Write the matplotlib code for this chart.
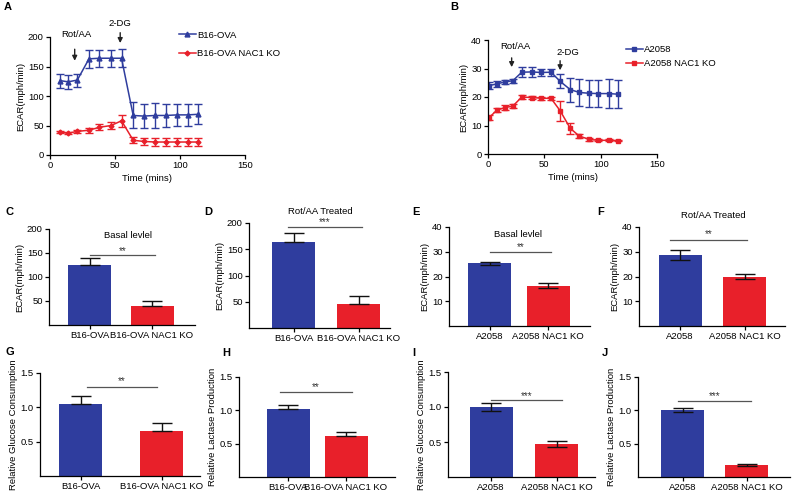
import numpy as np
import matplotlib
matplotlib.use("Agg")
import matplotlib.pyplot as plt
from matplotlib.lines import Line2D

plt.rcParams['font.family'] = ['Liberation Sans', 'DejaVu Sans']
plt.rcParams['font.size'] = 7

BLUE = '#2f3d9e'
RED = '#e8202a'
W, H = 792, 493
FS = 6.8

# ---- time course data (panel A: B16-OVA, panel B: A2058)
a_time = [8, 14, 21, 30, 38, 47, 55, 64, 72, 81, 89, 98, 106, 114]
a_wt = [126, 124, 127, 163, 164, 164, 164, 67, 66, 67, 67, 68, 68, 69]
a_wt_err = [12, 12, 11, 15, 14, 14, 15, 22, 21, 21, 20, 19, 18, 17]
a_ko = [39, 37, 40, 42, 47, 50, 58, 25, 23, 22, 22, 22, 22, 22]
a_ko_err = [2, 2, 2, 4, 5, 6, 10, 5, 6, 6, 6, 6, 6, 6]

b_time = [1, 8, 15, 22, 30, 39, 47, 56, 64, 73, 81, 90, 98, 107, 115]
b_wt = [24.0, 24.6, 25.3, 25.7, 28.7, 28.8, 28.6, 28.7, 25.5, 22.6, 21.6, 21.3, 21.2, 21.2, 21.0]
b_wt_err = [1.3, 1.0, 0.6, 0.7, 1.8, 1.8, 1.3, 1.3, 2.5, 4.2, 4.7, 4.8, 4.8, 5.0, 5.0]
b_ko = [12.8, 15.4, 16.3, 16.8, 20.0, 19.8, 19.6, 19.5, 15.2, 9.0, 6.3, 5.1, 4.8, 4.8, 4.7]
b_ko_err = [0.8, 0.8, 0.8, 0.8, 0.8, 0.5, 0.5, 0.5, 3.5, 2.0, 0.8, 0.4, 0.3, 0.3, 0.3]

# ---- bar panels C-J
b16_labels = ['B16-OVA', 'B16-OVA NAC1 KO']
a2058_labels = ['A2058', 'A2058 NAC1 KO']
c_vals, c_err = [124, 40], [15, 9]
d_vals, d_err = [163, 45], [18, 16]
e_vals, e_err = [25.3, 16.3], [0.7, 0.9]
f_vals, f_err = [28.6, 20.0], [2.0, 1.0]
g_vals, g_err = [1.05, 0.65], [0.12, 0.12]
h_vals, h_err = [1.02, 0.61], [0.06, 0.06]
i_vals, i_err = [1.0, 0.47], [0.06, 0.04]
j_vals, j_err = [1.0, 0.18], [0.03, 0.01]


def px_axes(fig, l, r, t, b):
    return fig.add_axes([l / W, 1 - b / H, (r - l) / W, (b - t) / H])


def style(ax):
    for s in ['top', 'right']:
        ax.spines[s].set_visible(False)
    for s in ['left', 'bottom']:
        ax.spines[s].set_linewidth(0.9)
    ax.tick_params(direction='out', length=3, width=0.9, labelsize=FS, pad=1.5)


fig = plt.figure(figsize=(W / 100, H / 100), dpi=100)

# ---------------- panel A
ax = px_axes(fig, 50, 245, 37, 155)
style(ax)
ax.errorbar(a_time, a_wt, yerr=a_wt_err, color=BLUE, marker='^', ms=3.5,
            lw=1.1, capsize=2.8, elinewidth=1)
ax.errorbar(a_time, a_ko, yerr=a_ko_err, color=RED, marker='D', ms=2.5,
            lw=1.1, capsize=2.8, elinewidth=1)
ax.set_xlim(0, 150)
ax.set_ylim(0, 200)
ax.set_xticks([0, 50, 100, 150])
ax.set_yticks([0, 50, 100, 150, 200])
ax.set_xlabel('Time (mins)', fontsize=FS, labelpad=3)
ax.set_ylabel('ECAR(mph/min)', fontsize=FS, labelpad=2)
ax.annotate('', xy=(19, 155), xytext=(19, 184), annotation_clip=False,
            arrowprops=dict(arrowstyle='-|>', color='#222222', lw=1, mutation_scale=7))
ax.text(20, 205, 'Rot/AA', ha='center', va='center', fontsize=FS)
ax.annotate('', xy=(54, 185), xytext=(54, 212), annotation_clip=False,
            arrowprops=dict(arrowstyle='-|>', color='#222222', lw=1, mutation_scale=7))
ax.text(54, 223, '2-DG', ha='center', va='center', fontsize=FS)
h = [Line2D([], [], color=BLUE, marker='^', ms=3.5, lw=1.1),
     Line2D([], [], color=RED, marker='D', ms=2.5, lw=1.1)]
fig.legend(h, ['B16-OVA', 'B16-OVA NAC1 KO'], loc='upper left',
           bbox_to_anchor=(170 / W, 1 - 22 / H), frameon=False, fontsize=FS,
           handlelength=1.8, handletextpad=0.2, labelspacing=1.0)
fig.text(4 / W, 1 - 7 / H, 'A', fontsize=8, fontweight='bold', va='center')

# ---------------- panel B
ax = px_axes(fig, 488, 657, 40, 154)
style(ax)
ax.errorbar(b_time, b_wt, yerr=b_wt_err, color=BLUE, marker='s', ms=2.5,
            lw=1.1, capsize=2.8, elinewidth=1)
ax.errorbar(b_time, b_ko, yerr=b_ko_err, color=RED, marker='s', ms=2.5,
            lw=1.1, capsize=2.8, elinewidth=1)
ax.set_xlim(0, 150)
ax.set_ylim(0, 40)
ax.set_xticks([0, 50, 100, 150])
ax.set_yticks([0, 10, 20, 30, 40])
ax.set_xlabel('Time (mins)', fontsize=FS, labelpad=3)
ax.set_ylabel('ECAR(mph/min)', fontsize=FS, labelpad=2)
ax.annotate('', xy=(21, 29.5), xytext=(21, 34.7), annotation_clip=False,
            arrowprops=dict(arrowstyle='-|>', color='#222222', lw=1, mutation_scale=7))
ax.text(24, 37.8, 'Rot/AA', ha='center', va='center', fontsize=FS)
ax.annotate('', xy=(64, 28.4), xytext=(64, 33.7), annotation_clip=False,
            arrowprops=dict(arrowstyle='-|>', color='#222222', lw=1, mutation_scale=7))
ax.text(71, 35.5, '2-DG', ha='center', va='center', fontsize=FS)
h = [Line2D([], [], color=BLUE, marker='s', ms=2.5, lw=1.1),
     Line2D([], [], color=RED, marker='s', ms=2.5, lw=1.1)]
fig.legend(h, ['A2058', 'A2058 NAC1 KO'], loc='upper left',
           bbox_to_anchor=(617 / W, 1 - 37 / H), frameon=False, fontsize=FS,
           handlelength=1.8, handletextpad=0.2, labelspacing=0.5)
fig.text(450 / W, 1 - 7 / H, 'B', fontsize=8, fontweight='bold', va='center')


# ---------------- bar panels
def bar_panel(box, centers, vals, err, lower, ymax, yticks, ylabel, labels,
              title, title_xy, sig, sig_span, star_y, letter, letter_xy):
    l, r, t, b = box
    c0, c1 = centers
    unit = c1 - c0
    ax = px_axes(fig, l, r, t, b)
    style(ax)
    x = np.arange(len(vals))
    ax.bar(x, vals, width=43 / unit, color=[BLUE, RED], zorder=2)
    lo = err if lower else [0] * len(err)
    ax.errorbar(x, vals, yerr=[lo, err], fmt='none', ecolor='#111111',
                elinewidth=1, capsize=7, capthick=1, zorder=3)
    ax.set_xlim((l - c0) / unit, (r - c0) / unit)
    ax.set_ylim(0, ymax)
    ax.set_yticks(yticks)
    ax.set_xticks(x)
    ax.set_xticklabels(labels)
    ax.set_ylabel(ylabel, fontsize=FS, labelpad=2)
    if title:
        ax.text(title_xy[0], title_xy[1], title, ha='center', va='center',
                fontsize=FS, clip_on=False)
    ax.plot(sig_span, [sig[1], sig[1]], color='#555555', lw=0.9, clip_on=False)
    ax.text(np.mean(sig_span), star_y, sig[0], ha='center', va='center',
            fontsize=7, color='#333333', clip_on=False)
    fig.text(letter_xy[0] / W, 1 - letter_xy[1] / H, letter, fontsize=8,
             fontweight='bold', va='center')
    return ax


bar_panel((49, 195, 229, 325), (89.5, 152), c_vals, c_err, False, 200,
          [50, 100, 150, 200], 'ECAR(mph/min)', b16_labels,
          'Basal levlel', (0.62, 187), ('**', 145), (0, 1.05), 155, 'C', (5, 212))
bar_panel((249, 390, 223, 328), (293.5, 358.5), d_vals, d_err, False, 200,
          [50, 100, 150, 200], 'ECAR(mph/min)', b16_labels,
          'Rot/AA Treated', (0.41, 222), ('***', 192), (-0.08, 1.05), 201, 'D', (204, 212))
bar_panel((449, 590, 227, 326), (489.5, 548), e_vals, e_err, True, 40,
          [10, 20, 30, 40], 'ECAR(mph/min)', a2058_labels,
          'Basal levlel', (0.49, 36.8), ('**', 29.9), (0, 1.05), 31.8, 'E', (412, 212))
bar_panel((639, 785, 227, 326), (680, 744.5), f_vals, f_err, True, 40,
          [10, 20, 30, 40], 'ECAR(mph/min)', a2058_labels,
          'Rot/AA Treated', (0.51, 44.8), ('**', 34.7), (-0.16, 1.04), 37.0, 'F', (597, 212))
bar_panel((40, 200, 373, 476), (80.5, 161.5), g_vals, g_err, False, 1.5,
          [0.5, 1.0, 1.5], 'Relative Glucose Consumption', b16_labels,
          None, None, ('**', 1.30), (0.08, 0.94), 1.38, 'G', (5, 352))
bar_panel((239, 395, 377, 477), (288, 346), h_vals, h_err, False, 1.5,
          [0.5, 1.0, 1.5], 'Relative Lactase Production', b16_labels,
          None, None, ('**', 1.275), (-0.13, 1.1), 1.35, 'H', (222, 353))
bar_panel((448, 595, 372, 477), (491, 556.5), i_vals, i_err, True, 1.5,
          [0.5, 1.0, 1.5], 'Relative Glucose Consumption', a2058_labels,
          None, None, ('***', 1.1), (0, 1.08), 1.16, 'I', (412, 353))
bar_panel((638, 790, 377, 477), (682.5, 746.5), j_vals, j_err, True, 1.5,
          [0.5, 1.0, 1.5], 'Relative Lactase Production', a2058_labels,
          None, None, ('***', 1.14), (-0.07, 1.07), 1.21, 'J', (602, 353))

fig.savefig('out.png', dpi=100)
